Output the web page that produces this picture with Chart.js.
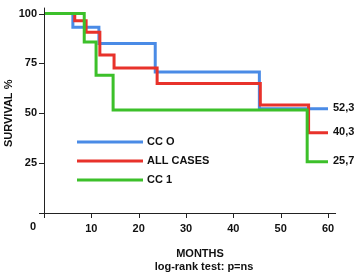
<!DOCTYPE html>
<html>
<head>
<meta charset="utf-8">
<script src="https://cdn.jsdelivr.net/npm/chart.js@4/dist/chart.umd.min.js"></script>
<style>
  html, body { margin: 0; padding: 0; background: #fff; }
  #wrap { width: 358px; height: 275px; }
</style>
</head>
<body>
<div id="wrap"><canvas id="kmChart" width="358" height="275"></canvas></div>
<script>
// Kaplan-Meier survival (months, survival %)
const seriesNames = ['CC O', 'ALL CASES', 'CC 1'];
const seriesColors = ['#4a8be6', '#e8322b', '#3cc02a'];

const cc0Months = [0, 6.1, 11.6, 23.5, 45.5, 60];
const cc0Survival = [100, 93.1, 85, 70.7, 52.3, 52.3];

const allMonths = [0, 6.5, 8.9, 11.8, 14.8, 23.9, 45.7, 55.9, 60];
const allSurvival = [100, 96.4, 90.7, 79.2, 72.7, 64.9, 54.2, 40.3, 40.3];

const cc1Months = [0, 8.5, 11.0, 14.6, 55.6, 60];
const cc1Survival = [100, 85.8, 69.1, 51.7, 25.7, 25.7];

const endLabels = ['52,3', '40,3', '25,7'];
const xTicks = [10, 20, 30, 40, 50, 60];
const yTicks = [25, 50, 75, 100];

const FONT = '"Liberation Sans", Arial, sans-serif';

function toPoints(xs, ys) {
  return xs.map((x, i) => ({ x: x, y: ys[i] }));
}

const allSeries = [
  toPoints(cc0Months, cc0Survival),
  toPoints(allMonths, allSurvival),
  toPoints(cc1Months, cc1Survival)
];

const datasets = allSeries.map((pts, i) => ({
  label: seriesNames[i],
  data: pts,
  borderColor: seriesColors[i],
  borderWidth: 3,
  stepped: 'before',
  pointRadius: 0,
  fill: false,
  clip: false,
  order: 2 - i
}));

// axes, legend, titles and end labels drawn by hand, Prism style
const extras = {
  id: 'extras',
  afterDatasetsDraw(chart) {
    const ctx = chart.ctx;
    const xs = chart.scales.x;
    const ys = chart.scales.y;
    const x0 = xs.getPixelForValue(0);
    const y0 = ys.getPixelForValue(0);

    ctx.save();
    ctx.strokeStyle = '#222';
    ctx.lineWidth = 1;
    ctx.beginPath();
    ctx.moveTo(x0 - 5, y0 + 0.5);
    ctx.lineTo(xs.getPixelForValue(61.7), y0 + 0.5);
    ctx.moveTo(x0 + 0.5, ys.getPixelForValue(103));
    ctx.lineTo(x0 + 0.5, y0 + 5);
    yTicks.forEach(v => {
      const py = Math.round(ys.getPixelForValue(v)) + 0.5;
      ctx.moveTo(x0 - 5, py);
      ctx.lineTo(x0, py);
    });
    xTicks.forEach(v => {
      const px = Math.round(xs.getPixelForValue(v)) + 0.5;
      ctx.moveTo(px, y0);
      ctx.lineTo(px, y0 + 5);
    });
    ctx.stroke();

    ctx.fillStyle = '#111';
    ctx.font = 'bold 11px ' + FONT;
    ctx.textBaseline = 'middle';

    // origin label
    ctx.textAlign = 'center';
    ctx.fillText('0', x0 - 11, y0 + 14);

    // end-of-curve values
    ctx.textAlign = 'left';
    const lastVals = [cc0Survival, allSurvival, cc1Survival].map(a => a[a.length - 1]);
    lastVals.forEach((v, i) => {
      ctx.fillText(endLabels[i], xs.getPixelForValue(60) + 5, ys.getPixelForValue(v) - 1);
    });

    // legend
    const legY = [142, 161, 180];
    seriesNames.forEach((name, i) => {
      ctx.strokeStyle = seriesColors[i];
      ctx.lineWidth = 3;
      ctx.beginPath();
      ctx.moveTo(77, legY[i]);
      ctx.lineTo(143, legY[i]);
      ctx.stroke();
      ctx.fillText(name, 147, legY[i]);
    });

    // axis titles
    ctx.textAlign = 'center';
    ctx.fillText('MONTHS', 200, 254);
    ctx.fillText('log-rank test: p=ns', 204, 267);

    ctx.translate(9, (ys.top + ys.bottom) / 2);
    ctx.rotate(-Math.PI / 2);
    ctx.fillText('SURVIVAL %', 0, 0);
    ctx.restore();
  }
};

new Chart(document.getElementById('kmChart').getContext('2d'), {
  type: 'line',
  data: { datasets: datasets },
  options: {
    responsive: false,
    animation: false,
    layout: { padding: { top: 9, right: 30, left: 0, bottom: 0 } },
    plugins: {
      legend: { display: false },
      tooltip: { enabled: false }
    },
    scales: {
      x: {
        type: 'linear',
        min: 0,
        max: 60,
        afterFit: s => { s.height = 62; },
        afterBuildTicks: s => { s.ticks = xTicks.map(v => ({ value: v })); },
        grid: { display: false, drawTicks: false },
        border: { display: false },
        ticks: {
          padding: 9,
          color: '#111',
          font: { family: FONT, size: 11, weight: 'bold' }
        }
      },
      y: {
        min: 0,
        max: 100,
        afterFit: s => { s.width = 44; },
        afterBuildTicks: s => { s.ticks = yTicks.map(v => ({ value: v })); },
        grid: { display: false, drawTicks: false },
        border: { display: false },
        ticks: {
          padding: 7,
          color: '#111',
          font: { family: FONT, size: 11, weight: 'bold' }
        }
      }
    }
  },
  plugins: [extras]
});
</script>
</body>
</html>
